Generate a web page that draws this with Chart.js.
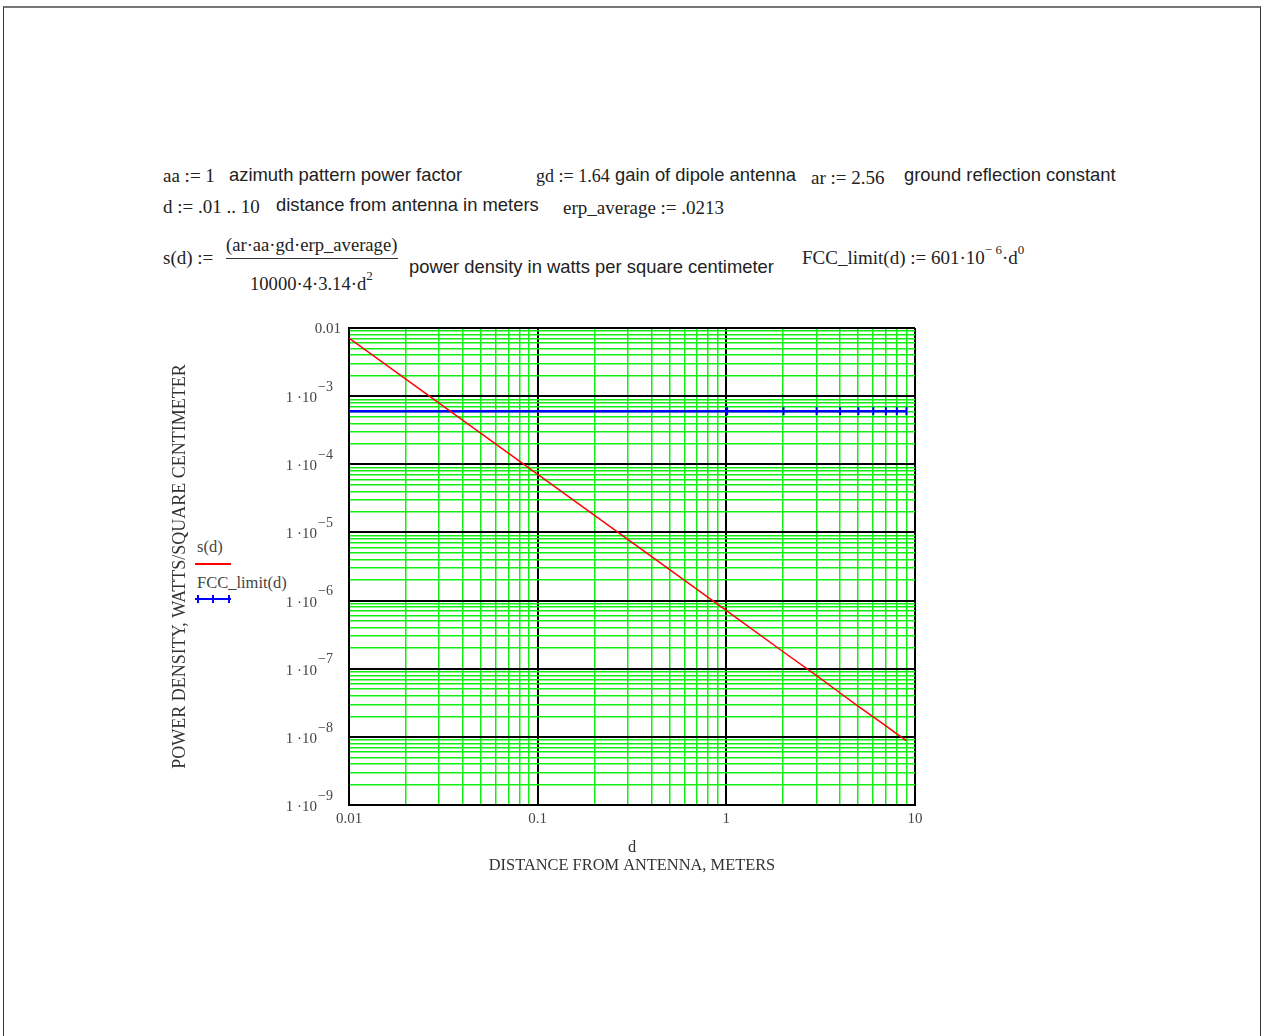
<!DOCTYPE html>
<html>
<head>
<meta charset="utf-8">
<script src="https://cdn.jsdelivr.net/npm/chart.js@4.4.1/dist/chart.umd.min.js"></script>
<style>
  body { margin: 0; background: #fff; width: 1264px; height: 1036px; overflow: hidden; position: relative; }
  .frame { position: absolute; left: 3px; top: 6px; width: 1256px; height: 1040px; border: 1px solid #333; border-top: 2px solid #777; }
  .t { position: absolute; white-space: nowrap; line-height: 20px; color: #222; }
  .s { font-family: "Liberation Serif", serif; font-size: 19px; }
  .a { font-family: "Liberation Sans", Arial, sans-serif; font-size: 18.4px; }
  sup { font-size: 13px; vertical-align: 0; position: relative; top: -10px; }
  #wrap { position: absolute; left: 160px; top: 300px; width: 780px; height: 600px; }
  .leg { position: absolute; font-family: "Liberation Serif", serif; font-size: 16.5px; color: #444; line-height: 18px; white-space: nowrap; }
</style>
</head>
<body>
<div class="frame"></div>

<div class="t s" style="left:163px; top:166px;">aa := 1</div>
<div class="t a" style="left:229px; top:165px;">azimuth pattern power factor</div>
<div class="t s" style="left:536px; top:166px; font-size:18px;">gd := 1.64</div>
<div class="t a" style="left:615px; top:165px;">gain of dipole antenna</div>
<div class="t s" style="left:811px; top:168px;">ar := 2.56</div>
<div class="t a" style="left:904px; top:165px;">ground reflection constant</div>

<div class="t s" style="left:163px; top:197px;">d := .01 .. 10</div>
<div class="t a" style="left:276px; top:195px;">distance from antenna in meters</div>
<div class="t s" style="left:563px; top:198px;">erp_average := .0213</div>

<div class="t s" style="left:163px; top:248px;">s(d) :=</div>
<div class="t s" style="left:226px; top:235px; font-size:18.6px;">(ar·aa·gd·erp_average)</div>
<div style="position:absolute; left:226px; top:258px; width:172px; height:1px; background:#333;"></div>
<div class="t s" style="left:250px; top:274px; font-size:18.6px;">10000·4·3.14·d<sup>2</sup></div>
<div class="t a" style="left:409px; top:257px;">power density in watts per square centimeter</div>
<div class="t s" style="left:802px; top:248px; font-size:19px;">FCC_limit(d) := 601·10<sup>− 6</sup>·d<sup>0</sup></div>

<div class="leg" style="left:197px; top:538px;">s(d)</div>
<div style="position:absolute; left:195px; top:563px; width:36px; height:2px; background:#ff0000;"></div>
<div class="leg" style="left:197px; top:574px;">FCC_limit(d)</div>
<div style="position:absolute; left:195px; top:598px; width:36px; height:2px; background:#0000ff;"></div>
<div style="position:absolute; left:197px; top:595px; width:2px; height:8px; background:#0000ff;"></div>
<div style="position:absolute; left:212px; top:595px; width:2px; height:8px; background:#0000ff;"></div>
<div style="position:absolute; left:228px; top:595px; width:2px; height:8px; background:#0000ff;"></div>

<div id="wrap"><canvas id="c"></canvas></div>

<script>
// distance values (d := .01 .. 10, step 1)
const dist = [0.01, 1.01, 2.01, 3.01, 4.01, 5.01, 6.01, 7.01, 8.01, 9.01];
// s(d), power density
const sVals = [7.1e-3, 7.0e-7, 1.76e-7, 7.9e-8, 4.4e-8, 2.8e-8, 1.97e-8, 1.45e-8, 1.11e-8, 8.8e-9];
// FCC_limit(d)
const fccVals = [6.01e-4, 6.01e-4, 6.01e-4, 6.01e-4, 6.01e-4, 6.01e-4, 6.01e-4, 6.01e-4, 6.01e-4, 6.01e-4];

const xDecades = [0.01, 0.1, 1, 10];
const xLabels = ['0.01', '0.1', '1', '10'];
const yDecades = [1e-9, 1e-8, 1e-7, 1e-6, 1e-5, 1e-4, 1e-3, 1e-2];
const yLabelBase = ['1 ·10', '1 ·10', '1 ·10', '1 ·10', '1 ·10', '1 ·10', '1 ·10', '0.01'];
const yLabelExp = ['−9', '−8', '−7', '−6', '−5', '−4', '−3', ''];

function logTicks(decades) {
  const out = [];
  for (let i = 0; i < decades.length - 1; i++) {
    for (let k = 1; k <= 9; k++) out.push(+(k * decades[i]).toPrecision(6));
  }
  out.push(decades[decades.length - 1]);
  return out;
}
function isMajor(v, decades) {
  return decades.some(d => Math.abs(v / d - 1) < 1e-6);
}
function labelFor(v, decades, labels) {
  const i = decades.findIndex(d => Math.abs(v / d - 1) < 1e-6);
  return i >= 0 ? labels[i] : '';
}

// y tick labels with raised exponents
const yLabelPlugin = {
  id: 'yLabels',
  afterDraw(chart) {
    const s = chart.scales.y;
    const c = chart.ctx;
    c.save();
    c.fillStyle = '#444';
    c.textBaseline = 'middle';
    c.textAlign = 'right';
    yDecades.forEach((v, i) => {
      const y = s.getPixelForValue(v);
      if (yLabelExp[i]) {
        c.font = '14px "Liberation Serif"';
        const xe = s.right - 16;
        c.fillText(yLabelExp[i], xe, y - 9);
        const w = c.measureText(yLabelExp[i]).width;
        c.font = '15px "Liberation Serif"';
        c.fillText(yLabelBase[i], xe - w - 1, y + 2);
      } else {
        c.font = '15px "Liberation Serif"';
        c.fillText(yLabelBase[i], s.right - 8, y + 1);
      }
    });
    c.restore();
  }
};

const ctx = document.getElementById('c').getContext('2d');
new Chart(ctx, {
  type: 'line',
  data: {
    datasets: [{
      label: 's(d)',
      data: dist.map((d, i) => ({ x: d, y: sVals[i] })),
      borderColor: '#ff0000',
      borderWidth: 1.5,
      pointRadius: 0,
      tension: 0
    }, {
      label: 'FCC_limit(d)',
      data: dist.map((d, i) => ({ x: d, y: fccVals[i] })),
      borderColor: '#0000ff',
      borderWidth: 2.5,
      pointStyle: 'line',
      rotation: 90,
      pointRadius: 4,
      pointBorderWidth: 2,
      pointBorderColor: '#0000ff',
      tension: 0
    }]
  },
  options: {
    responsive: true,
    maintainAspectRatio: false,
    animation: false,
    layout: { padding: { left: 0, top: 28, right: 25, bottom: 0 } },
    plugins: { legend: { display: false }, tooltip: { enabled: false } },
    scales: {
      x: {
        type: 'logarithmic',
        min: 0.01,
        max: 10,
        afterBuildTicks: s => { s.ticks = logTicks(xDecades).map(v => ({ value: v })); },
        afterFit: s => { s.height = 95; },
        ticks: {
          autoSkip: false,
          maxRotation: 0,
          padding: 5,
          color: '#444',
          font: { family: 'Liberation Serif', size: 15 },
          callback: v => labelFor(v, xDecades, xLabels)
        },
        grid: {
          drawTicks: false,
          color: c => isMajor(c.tick.value, xDecades) ? '#000' : '#11ee11',
          lineWidth: c => isMajor(c.tick.value, xDecades) ? 2 : 1.5
        },
        border: { color: '#000', width: 2 },
        title: {
          display: true,
          text: ['d', 'DISTANCE FROM ANTENNA, METERS'],
          color: '#333',
          font: { family: 'Liberation Serif', size: 16.4, lineHeight: 1.1 },
          padding: { top: 0, bottom: 25 }
        }
      },
      y: {
        type: 'logarithmic',
        min: 1e-9,
        max: 0.01,
        afterBuildTicks: s => { s.ticks = logTicks(yDecades).map(v => ({ value: v })); },
        afterFit: s => { s.width = 189; },
        ticks: { display: false, autoSkip: false },
        grid: {
          drawTicks: false,
          color: c => isMajor(c.tick.value, yDecades) ? '#000' : '#11ee11',
          lineWidth: c => isMajor(c.tick.value, yDecades) ? 2 : 1.5
        },
        border: { color: '#000', width: 2 },
        title: {
          display: true,
          text: 'POWER DENSITY, WATTS/SQUARE CENTIMETER',
          color: '#333',
          font: { family: 'Liberation Serif', size: 18, lineHeight: 1.2 },
          padding: { top: 9, bottom: 0 }
        }
      }
    }
  },
  plugins: [yLabelPlugin]
});
</script>
</body>
</html>
